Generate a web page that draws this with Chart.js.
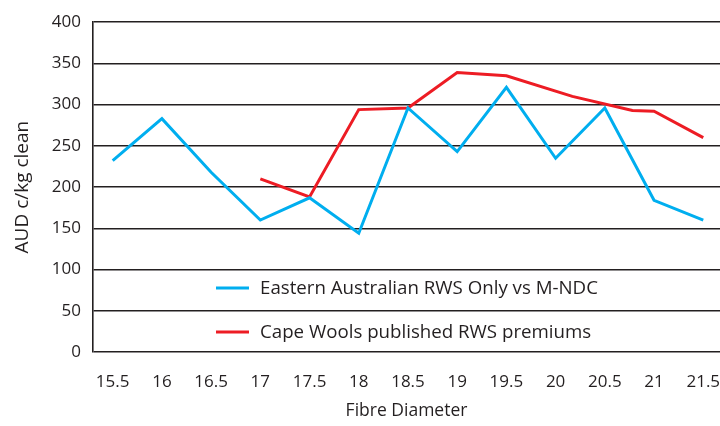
<!DOCTYPE html>
<html>
<head>
<meta charset="utf-8">
<script src="https://cdn.jsdelivr.net/npm/chart.js@4.4.1/dist/chart.umd.min.js"></script>
<style>
  body { margin: 0; background: #fff; }
  #wrap { width: 720px; height: 426px; }
</style>
</head>
<body>
<div id="wrap"><canvas id="fibreChart" width="720" height="426"></canvas></div>
<script>
const diameters = [15.5, 16, 16.5, 17, 17.5, 18, 18.5, 19, 19.5, 20, 20.5, 21, 21.5];
const easternAus = [232, 283, 218, 160, 187, 144, 296, 243, 321, 235, 296, 184, 160];
const capeDiameters = [17, 17.5, 18, 18.5, 19, 19.5, 20.17, 20.78, 21, 21.5];
const capeWools = [210, 188, 294, 296, 339, 335, 310, 293, 292, 260];
const seriesNames = ['Eastern Australian RWS Only vs M-NDC', 'Cape Wools published RWS premiums'];

const ink = '#231f20';
const fontFamily = "'Open Sans', sans-serif";
const tickFont = { family: fontFamily, size: 17 };

// legend is drawn inside the plot area, bottom left
const insideLegend = {
  id: 'insideLegend',
  afterDatasetsDraw(chart) {
    const { ctx, chartArea } = chart;
    ctx.save();
    ctx.font = `18.7px ${fontFamily}`;
    ctx.textBaseline = 'middle';
    ctx.fillStyle = ink;
    chart.data.datasets.forEach((ds, i) => {
      const left = chartArea.left + 123;
      const rowY = chartArea.bottom - 64 + i * 44;
      ctx.strokeStyle = ds.borderColor;
      ctx.lineWidth = 3;
      ctx.beginPath();
      ctx.moveTo(left, rowY);
      ctx.lineTo(left + 33, rowY);
      ctx.stroke();
      ctx.fillText(ds.label, left + 44, rowY + 1);
    });
    ctx.restore();
  }
};

const ctx = document.getElementById('fibreChart').getContext('2d');

const fibreChart = new Chart(ctx, {
  type: 'line',
  data: {
    datasets: [{
      label: seriesNames[0],
      data: diameters.map((d, i) => ({ x: d, y: easternAus[i] })),
      borderColor: '#00aeef',
      borderWidth: 3,
      pointRadius: 0,
      tension: 0,
    }, {
      label: seriesNames[1],
      data: capeDiameters.map((d, i) => ({ x: d, y: capeWools[i] })),
      borderColor: '#ed1c24',
      borderWidth: 3,
      pointRadius: 0,
      tension: 0,
    }]
  },
  options: {
    responsive: false,
    animation: false,
    layout: { padding: { top: 22, right: 0, left: 0, bottom: 0 } },
    plugins: {
      legend: { display: false },
      tooltip: { enabled: false }
    },
    scales: {
      x: {
        type: 'linear',
        min: 15.3,
        max: 21.67,
        afterBuildTicks: s => { s.ticks = diameters.map(v => ({ value: v })); },
        afterFit: s => { s.height = 74; s.paddingLeft = 0; s.paddingRight = 0; },
        ticks: { padding: 20, color: ink, font: tickFont, maxRotation: 0, autoSkip: false, callback: v => String(v) },
        grid: { display: false, drawTicks: false },
        border: { display: false },
        title: { display: true, text: 'Fibre Diameter', color: ink, font: { family: fontFamily, size: 17.5 }, padding: { top: 4, bottom: 4 } }
      },
      y: {
        min: 0,
        max: 400,
        afterFit: s => { s.width = 93; },
        ticks: { stepSize: 50, padding: 12, color: ink, font: tickFont },
        grid: { color: ink, lineWidth: 1.6, drawTicks: false },
        border: { display: true, color: ink, width: 1.6 },
        title: { display: true, text: 'AUD c/kg clean', color: ink, font: { family: fontFamily, size: 19 }, padding: { top: 11, bottom: 0 } }
      }
    }
  },
  plugins: [insideLegend]
});
</script>
</body>
</html>
